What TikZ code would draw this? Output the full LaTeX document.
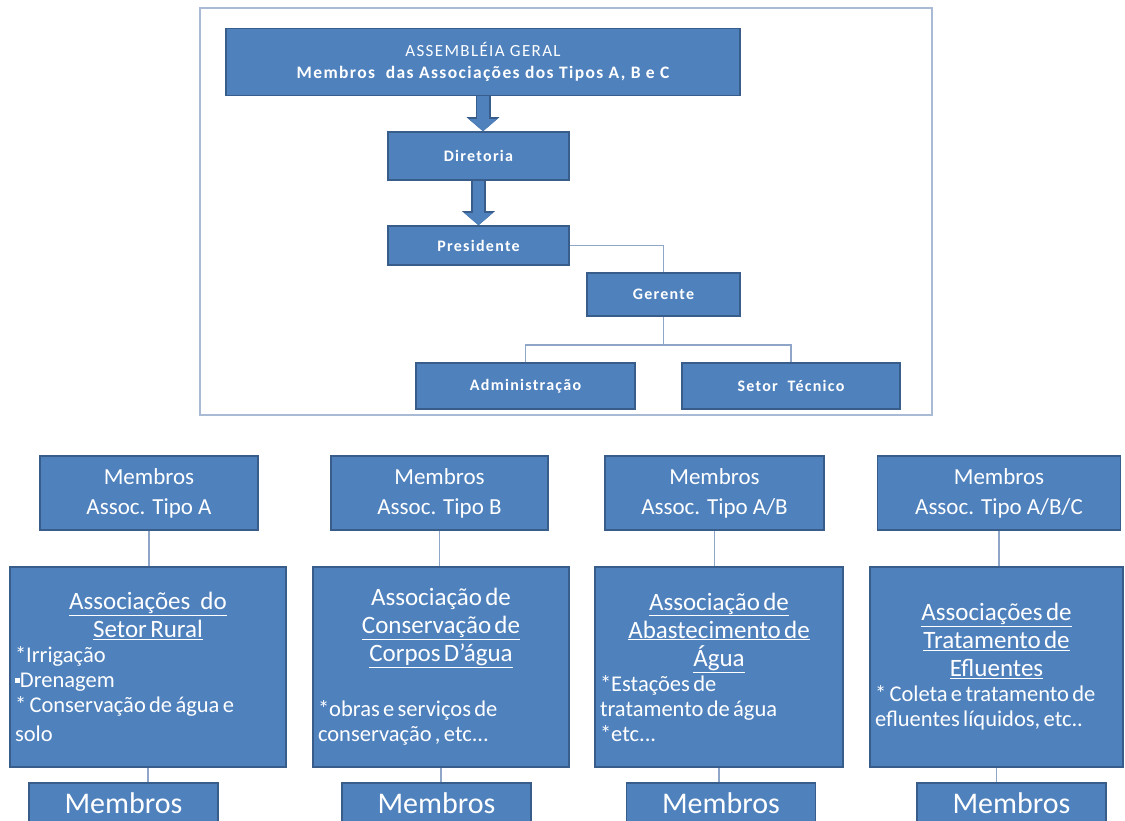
\documentclass[tikz,border=0pt]{standalone}
\usepackage{fontspec}
\setmainfont{Carlito}
\newfontfamily\spaced[LetterSpace=8]{Carlito}
\usetikzlibrary{arrows.meta,positioning,calc}
\definecolor{boxc}{HTML}{4F81BD}
\definecolor{edgec}{HTML}{385D8A}
\definecolor{linkc}{HTML}{8FA6C9}
\definecolor{framec}{HTML}{A9BBD4}
\newcommand{\headline}[1]{{\centering\fontsize{25}{28}\selectfont #1\par}}
\newcommand{\itemline}[1]{{\raggedright\fontsize{22.5}{25}\selectfont #1\par}}
\newcommand{\sqbullet}{\rule[0.2em]{0.22em}{0.22em}}

\begin{document}
\begin{tikzpicture}[
  x=1pt, y=-1pt,
  panel/.style={draw=framec, line width=1.3pt, inner sep=0pt},
  unit/.style={draw=edgec, fill=boxc, line width=1.5pt, text=white, inner sep=0pt,
    align=center, font=\spaced\bfseries\fontsize{16}{22}\selectfont},
  member/.style={draw=edgec, fill=boxc, line width=1.5pt, text=white, inner sep=0pt,
    align=center, font=\fontsize{23}{30}\selectfont},
  people/.style={member, font=\fontsize{30}{36}\selectfont, minimum width=189pt, minimum height=40pt},
  assoc/.style={draw=edgec, fill=boxc, line width=1.5pt, text=white, inner sep=5pt,
    minimum height=200pt, text width=#1},
  link/.style={draw=linkc, line width=1.2pt},
  arrowrim/.style={draw=edgec, line width=15pt, -{Triangle[width=32pt,length=14pt]}},
  arrowbody/.style={draw=boxc, line width=11.5pt, -{Triangle[width=27pt,length=12pt]}}
]
  \path[use as bounding box, clip] (0,0) rectangle (1125,821);

  % upper chart
  \node[panel, minimum width=732pt, minimum height=407pt] (frame) at (566,211.5) {};
  \node[unit, minimum width=514pt, minimum height=67pt] (assembly) at (483,62)
    {\mdseries\fontsize{17}{18.5}\selectfont ASSEMBLÉIA GERAL\\
     \fontsize{17.5}{18.5}\selectfont Membros\ \ das Associações dos Tipos A, B e C};
  \node[unit, minimum width=181pt, minimum height=48pt] (board) at (478.5,156) {Diretoria};
  \node[unit, minimum width=181pt, minimum height=39pt] (president) at (478.5,245.5) {Presidente};
  \node[unit, minimum width=153pt, minimum height=43pt] (manager) at (663.5,294.5) {Gerente};
  \node[unit, minimum width=219pt, minimum height=46pt] (admin) at (525.5,386) {Administração};
  \node[unit, minimum width=218pt, minimum height=46pt] (technical) at (791,386) {Setor\ \ Técnico};

  \draw[arrowrim] (assembly.south) -- (assembly.south |- board.north);
  \draw[arrowbody] (assembly.south) -- (assembly.south |- board.north);
  \draw[arrowrim] (board.south) -- (board.north |- president.north);
  \draw[arrowbody] (board.south) -- (board.north |- president.north);

  \draw[link] (president.east) -| (manager.north);
  \coordinate (split) at (663.5,345);
  \draw[link] (manager.south) -- (split);
  \draw[link] (admin.north) |- (split) -| (technical.north);

  % member rows
  \node[member, minimum width=218pt, minimum height=74pt] (typeA) at (149,493) {Membros\\Assoc. Tipo A};
  \node[member, minimum width=217pt, minimum height=74pt] (typeB) at (439.5,493) {Membros\\Assoc. Tipo B};
  \node[member, minimum width=219pt, minimum height=74pt] (typeC) at (714.5,493) {Membros\\Assoc. Tipo A/B};
  \node[member, minimum width=243pt, minimum height=74pt] (typeD) at (999,493) {Membros\\Assoc. Tipo A/B/C};

  % associations
  \node[assoc=266pt] (rural) at (148,667) {%
    \headline{\underline{Associações\ \ \ do}\\ \underline{Setor Rural}}
    \itemline{*Irrigação\\{}\sqbullet Drenagem\\{}* Conservação de água e\\[4pt]{}solo}};
  \node[assoc=246pt] (bodies) at (441,667) {%
    \headline{Associação de\\ \underline{Conservação de}\\ \underline{Corpos D’água}}
    \vspace{30pt}
    \itemline{*obras e serviços de\\{}conservação , etc...}};
  \node[assoc=238pt] (supply) at (719,667) {%
    \headline{\underline{Associação de}\\ \underline{Abastecimento de}\\ \underline{Água}}
    \itemline{*Estações de\\{}tratamento de água\\{}*etc...}};
  \node[assoc=243pt] (effluent) at (996.5,667) {%
    \headline{\underline{Associações de}\\ \underline{Tratamento de}\\ \underline{Efluentes}}
    \itemline{* Coleta e tratamento de\\{}efluentes líquidos, etc..}};

  \node[people] (peopleA) at (123.5,803) {Membros};
  \node[people] (peopleB) at (436.5,803) {Membros};
  \node[people] (peopleC) at (721,803) {Membros};
  \node[people] (peopleD) at (1011.5,803) {Membros};

  \draw[link] (typeA.south) -- (typeA.south |- rural.north);
  \draw[link] (typeB.south) -- (typeB.south |- bodies.north);
  \draw[link] (typeC.south) -- (typeC.south |- supply.north);
  \draw[link] (typeD.south) -- (typeD.south |- effluent.north);
  \draw[link] (rural.south) -- (rural.south |- peopleA.north);
  \draw[link] (bodies.south) -- (bodies.south |- peopleB.north);
  \draw[link] (supply.south) -- (supply.south |- peopleC.north);
  \draw[link] (effluent.south) -- (effluent.south |- peopleD.north);
\end{tikzpicture}
\end{document}
